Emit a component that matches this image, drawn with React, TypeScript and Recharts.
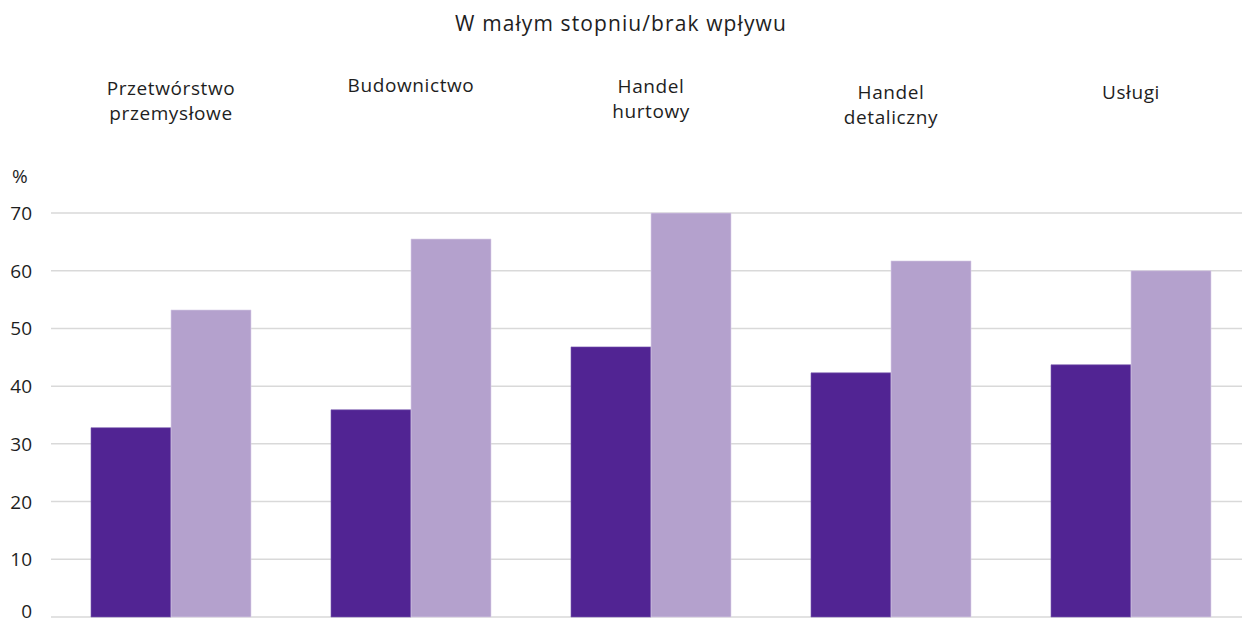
import { Bar, BarChart, CartesianGrid, XAxis, YAxis } from "recharts";

const categories = [
  "Przetwórstwo\nprzemysłowe",
  "Budownictwo",
  "Handel\nhurtowy",
  "Handel\ndetaliczny",
  "Usługi",
];
const seriesA = [32.8, 35.9, 46.8, 42.3, 43.7];
const seriesB = [53.2, 65.5, 70.0, 61.7, 60.0];
const yTicks = [0, 10, 20, 30, 40, 50, 60, 70];

const FONT = "'Open Sans', 'Noto Sans', sans-serif";
const TEXT = "#1e1e1e";

// small vertical nudges of the top labels, as in the source layout
const labelTop = [88, 85, 86, 92, 92];

const data = categories.map((name, i) => ({ name, a: seriesA[i], b: seriesB[i] }));

function CategoryTick(props: any) {
  const { x, payload, index } = props;
  const lines = String(payload.value).split("\n");
  const top = labelTop[index] ?? 88;
  return (
    <text
      x={x}
      y={top}
      textAnchor="middle"
      fill={TEXT}
      fontFamily={FONT}
      fontSize={19}
      letterSpacing={0.6}
      dominantBaseline="central"
    >
      {lines.map((l, i) => (
        <tspan key={i} x={x} dy={i === 0 ? 0 : 25}>
          {l}
        </tspan>
      ))}
    </text>
  );
}

function ValueTick(props: any) {
  const { x, y, payload } = props;
  // the bottom label sits right on the edge; lift it so it stays whole
  const lift = payload.value === 0 ? 6 : 0;
  return (
    <text
      x={x}
      y={y - lift}
      textAnchor="end"
      dominantBaseline="central"
      fill={TEXT}
      fontFamily={FONT}
      fontSize={19}
    >
      {payload.value}
    </text>
  );
}

export default function App() {
  return (
    <div
      style={{
        position: "absolute",
        left: 0,
        top: 0,
        width: 1242,
        height: 625,
        overflow: "hidden",
        background: "#fff",
        fontFamily: FONT,
      }}
    >
      <div
        style={{
          position: "absolute",
          left: 0,
          width: 1242,
          top: 9,
          textAlign: "center",
          fontSize: 21,
          letterSpacing: 1.1,
          color: TEXT,
        }}
      >
        W małym stopniu/brak wpływu
      </div>
      <div style={{ position: "absolute", left: 12, top: 163, fontSize: 19, color: TEXT }}>%</div>
      <BarChart
        width={1262}
        height={625}
        data={data}
        margin={{ top: 212, right: 11, left: 0, bottom: 8 }}
        barCategoryGap={40}
        barGap={0}
      >
        <CartesianGrid vertical={false} stroke="#d9d9d9" strokeWidth={1.5} />
        <XAxis
          dataKey="name"
          orientation="top"
          height={1}
          axisLine={false}
          tickLine={false}
          interval={0}
          tick={<CategoryTick />}
        />
        <YAxis
          domain={[0, 70]}
          ticks={yTicks}
          interval={0}
          width={51}
          axisLine={false}
          tickLine={false}
          tickSize={0}
          tickMargin={19}
          tick={<ValueTick />}
        />
        <Bar dataKey="a" fill="#512493" stroke="#7a5cae" strokeWidth={0.6} isAnimationActive={false} />
        <Bar dataKey="b" fill="#b4a1cd" stroke="#dcd2ea" strokeWidth={0.6} isAnimationActive={false} />
      </BarChart>
    </div>
  );
}
